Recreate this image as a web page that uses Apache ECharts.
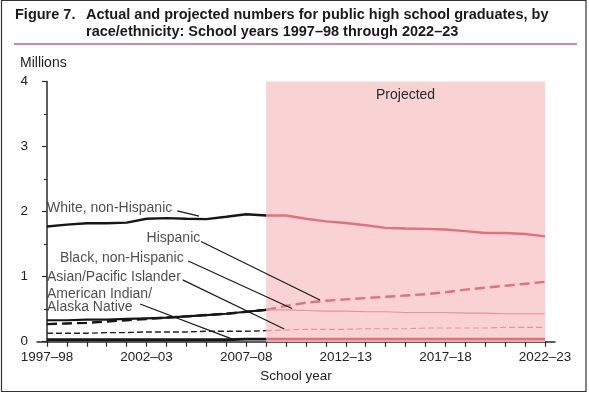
<!DOCTYPE html>
<html>
<head>
<meta charset="utf-8">
<script src="https://cdn.jsdelivr.net/npm/echarts@6/dist/echarts.min.js"></script>
<style>
html,body{margin:0;padding:0;background:#fff;}
#c{width:589px;height:394px;}
</style>
</head>
<body>
<div id="c"></div>
<script>
// ---- data ----
const years = ["1997–98","1998–99","1999–00","2000–01","2001–02","2002–03","2003–04","2004–05","2005–06","2006–07","2007–08","2008–09","2009–10","2010–11","2011–12","2012–13","2013–14","2014–15","2015–16","2016–17","2017–18","2018–19","2019–20","2020–21","2021–22","2022–23"];
const projStartIndex = 11;
const whiteActual = [1.77,1.80,1.82,1.82,1.83,1.89,1.90,1.89,1.885,1.92,1.96,1.94];
const whiteProj   = [1.94,1.94,1.89,1.85,1.825,1.79,1.75,1.74,1.735,1.725,1.70,1.67,1.67,1.655,1.62];
const hispActual  = [0.27,0.28,0.29,0.31,0.33,0.35,0.37,0.39,0.41,0.43,0.46,0.49];
const hispProj    = [0.49,0.55,0.60,0.63,0.65,0.67,0.69,0.71,0.73,0.76,0.80,0.83,0.86,0.89,0.92];
const blackActual = [0.33,0.33,0.34,0.34,0.35,0.36,0.37,0.39,0.41,0.43,0.46,0.49];
const blackProj   = [0.49,0.49,0.48,0.47,0.47,0.46,0.46,0.45,0.45,0.45,0.44,0.44,0.43,0.43,0.43];
const asianActual = [0.13,0.13,0.13,0.14,0.14,0.15,0.15,0.15,0.16,0.16,0.16,0.17];
const asianProj   = [0.17,0.18,0.19,0.19,0.19,0.20,0.20,0.20,0.21,0.21,0.21,0.21,0.22,0.22,0.22];
const amindActual = [0.03,0.03,0.03,0.03,0.03,0.03,0.03,0.03,0.03,0.03,0.04,0.04];
const amindProj   = [0.04,0.04,0.04,0.04,0.04,0.04,0.04,0.04,0.04,0.04,0.04,0.04,0.04,0.04,0.04];
const yTicks = [0,1,2,3,4];
const labelTexts = ["White, non-Hispanic","Hispanic","Black, non-Hispanic","Asian/Pacific Islander","American Indian/\nAlaska Native"];

// ---- annotation placement (axis units: category index, millions) ----
const labelAnchors = [[0,2.05],[5.0,1.59],[0.65,1.29],[0,1.0],[0,0.63]];
const leaders = [
  [[6.54,2.01],[7.63,1.93]],
  [[7.73,1.54],[13.70,0.64]],
  [[7.09,1.24],[12.30,0.51]],
  [[6.81,0.95],[11.91,0.195]],
  [[4.67,0.58],[9.31,0.04]]
];

const FONT = "'Liberation Sans', Arial, Helvetica, sans-serif";
const BLACK = '#161616';
const PINK = '#e2707f';
const PINK_THIN = '#e8909b';

function proj(arr){ return years.map((y,i)=> i < projStartIndex ? null : arr[i-projStartIndex]); }

const chart = echarts.init(document.getElementById('c'), null, {renderer:'canvas'});

const series = [
  {name:'whiteP', type:'line', data: proj(whiteProj), symbol:'none', z:3,
   lineStyle:{color:PINK, width:2.4},
   markArea:{silent:true, itemStyle:{color:'#f9d3d4'},
     label:{show:true, position:'insideTop', distance:7, fontSize:14, color:'#2a2a2a', fontFamily:FONT},
     data:[[{name:'Projected', xAxis: years[projStartIndex], yAxis: 0},{xAxis: years[years.length-1], yAxis: yTicks[yTicks.length-1]}]]}},
  {name:'hispP', type:'line', data: proj(hispProj), symbol:'none', z:3,
   lineStyle:{color:PINK, width:2.4, type:[10,5]}},
  {name:'blackP', type:'line', data: proj(blackProj), symbol:'none', z:3,
   lineStyle:{color:PINK_THIN, width:1.1}},
  {name:'asianP', type:'line', data: proj(asianProj), symbol:'none', z:3,
   lineStyle:{color:PINK_THIN, width:1.1, type:[6,3]}},
  {name:'amindP', type:'line', data: proj(amindProj), symbol:'none', z:3,
   lineStyle:{color:PINK, width:2.8}},
  {name:'white', type:'line', data: whiteActual, symbol:'none', z:4,
   lineStyle:{color:BLACK, width:2.4}},
  {name:'black', type:'line', data: blackActual, symbol:'none', z:4,
   lineStyle:{color:BLACK, width:2.2}},
  {name:'hisp', type:'line', data: hispActual, symbol:'none', z:4,
   lineStyle:{color:BLACK, width:2.4, type:[10,5]}},
  {name:'asian', type:'line', data: asianActual, symbol:'none', z:4,
   lineStyle:{color:'#222', width:1.4, type:[6,3]}},
  {name:'amind', type:'line', data: amindActual, symbol:'none', z:4,
   lineStyle:{color:BLACK, width:2.8}}
];

leaders.forEach((seg,i)=>{
  series.push({name:'leader'+i, type:'line', xAxisIndex:1, yAxisIndex:0, data: seg, symbol:'none', silent:true, z:6,
    lineStyle:{color:'#1a1a1a', width:1.2}});
});

series.push({name:'labels', type:'scatter', xAxisIndex:1, yAxisIndex:0, symbolSize:0, silent:true, z:7,
  data: labelTexts.map((t,i)=>({value: labelAnchors[i], label:{formatter: t}})),
  label:{show:true, position:'right', distance:0, fontSize:14, lineHeight:12.5, color:'#1e1e1e', fontFamily:FONT}
});

chart.setOption({
  animation:false,
  backgroundColor:'#ffffff',
  textStyle:{fontFamily:FONT},
  grid:{left:37, right:34, top:81.5, bottom:52.3, containLabel:false},
  xAxis:[{
    type:'category', data: years, boundaryGap:true,
    name:'School year', nameLocation:'middle', nameGap:26,
    nameTextStyle:{fontSize:13.5, color:'#222', fontFamily:FONT},
    axisLine:{lineStyle:{color:'#2a2a2a', width:1.5}},
    axisTick:{show:true, alignWithLabel:true, interval:0, length:5, lineStyle:{color:'#2a2a2a', width:1.2}},
    axisLabel:{interval:4, fontSize:13.5, color:'#222', margin:9, fontFamily:FONT},
    splitLine:{show:false}
  },{
    type:'value', min:-0.5, max:years.length-0.5, show:false
  }],
  yAxis:[{
    type:'value', min:yTicks[0], max:yTicks[yTicks.length-1], interval:1,
    axisLine:{show:true, lineStyle:{color:'#2a2a2a', width:1.5}},
    axisTick:{show:true, length:5, lineStyle:{color:'#2a2a2a', width:1.2}},
    minorTick:{show:true, splitNumber:2, length:3, lineStyle:{color:'#2a2a2a', width:1.2}},
    axisLabel:{fontSize:13.5, color:'#222', margin:9, fontFamily:FONT},
    splitLine:{show:false}
  }],
  graphic:[
    {type:'rect', shape:{x:1.5, y:0.5, width:584.5, height:391}, style:{fill:'none', stroke:'#333', lineWidth:1.2}, silent:true},
    {type:'text', left:15, top:7, style:{text:'Figure 7.', font:"bold 14.5px "+FONT, fill:'#1a1a1a'}},
    {type:'text', left:86, top:7, style:{text:'Actual and projected numbers for public high school graduates, by', font:"bold 14.5px "+FONT, fill:'#1a1a1a'}},
    {type:'text', left:86, top:24, style:{text:'race/ethnicity: School years 1997–98 through 2022–23', font:"bold 14.5px "+FONT, fill:'#1a1a1a'}},
    {type:'line', shape:{x1:14, y1:44, x2:577, y2:44}, style:{stroke:'#c9637d', lineWidth:1.6}, silent:true},
    {type:'text', left:20, top:56, style:{text:'Millions', font:"14px "+FONT, fill:'#1e1e1e'}}
  ],
  series: series
});
</script>
</body>
</html>
